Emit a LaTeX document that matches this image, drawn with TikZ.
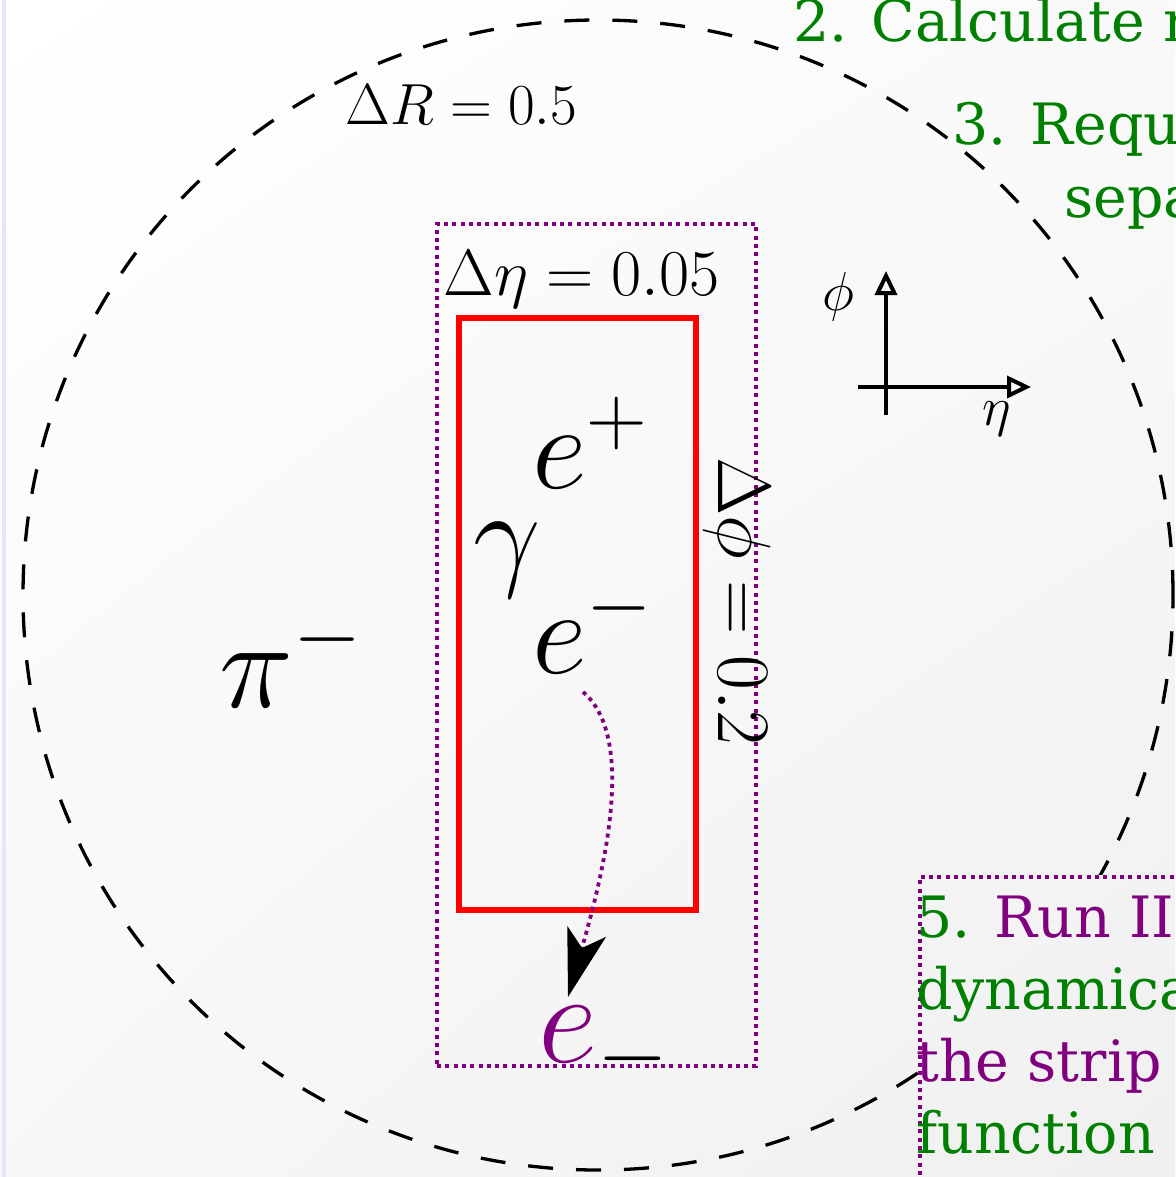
\RequirePackage{fix-cm}
\documentclass[tikz,border=0pt]{standalone}
\usepackage[no-math]{fontspec}
\newfontfamily\dvs{DejaVu Serif}
\usetikzlibrary{arrows.meta,shadings}
\definecolor{mypurple}{RGB}{128,0,128}
\definecolor{mygreen}{RGB}{0,128,0}
\definecolor{lav}{RGB}{230,230,250}
\definecolor{myred}{RGB}{255,0,0}
\begin{document}
\begin{tikzpicture}[x=1pt,y=-1pt,
  bgshade/.style={upper left=white, upper right=black!2, lower left=black!3, lower right=black!6},
  dotbox/.style={draw=mypurple, line width=3.8pt, dash pattern=on 4pt off 4.3pt},
  dotline/.style={draw=mypurple, line width=3.8pt, dash pattern=on 4pt off 4.3pt},
  conebox/.style={circle, draw=black, line width=3.3pt, dash pattern=on 25pt off 23pt, minimum size=1150pt, inner sep=0pt},
  redbox/.style={draw=myred, line width=6pt, inner sep=0pt},
  axis/.style={draw=black, line width=3.3pt, -{Triangle[open, length=24pt, width=22pt, line width=4pt]}},
  mtext/.style={inner sep=0pt, text=black},
  gtext/.style={inner sep=0pt, font=\dvs\fontsize{57}{68}\selectfont, text=mygreen, anchor=base west},
]
\useasboundingbox (0,0) rectangle (1175,1177);
\clip (0,0) rectangle (1175,1177);
\shade[bgshade] (0,0) rectangle (1175,1177);
\fill[lav] (1.5,0) rectangle (6,1177);

% cone
\node[conebox] (cone) at (598,595) {};

% strip (dotted) and cluster (red)
\node[dotbox, minimum width=319pt, minimum height=842pt, inner sep=0pt] (strip) at (596.5,645) {};
\node[redbox, minimum width=237pt, minimum height=592pt] (clus) at (577.5,614) {};

% labels
\node[mtext, anchor=base, font=\fontsize{58}{64}\selectfont] (dR) at (461.5,125) {$\Delta R = 0.5$};
\node[mtext, anchor=base, font=\fontsize{65.5}{72}\selectfont] (deta) at (581.5,295) {$\Delta\eta = 0.05$};
\node[mtext, anchor=base, rotate=-90, font=\fontsize{75.5}{82}\selectfont] (dphi) at (718,601.5) {$\Delta\phi = 0.2$};

% particles
\node[mtext, anchor=base west, font=\fontsize{120}{130}\selectfont] (ep) at (532,488) {$e^+$};
\node[mtext, anchor=base west, font=\fontsize{120}{130}\selectfont] (gam) at (473,574) {$\gamma$};
\node[mtext, anchor=base west, font=\fontsize{120}{130}\selectfont] (em) at (532,673) {$e^-$};
\node[mtext, anchor=base west, font=\fontsize{125}{130}\selectfont] (pim) at (219,707) {$\pi^-$};
\node[mtext, anchor=base west, font=\fontsize{130}{140}\selectfont] (eout) at (538,1062) {$\textcolor{mypurple}{e}_-$};

% migration arrow
\coordinate (cs) at (583,692);
\coordinate (ce) at (568,997);
\draw[dotline, -{Stealth[black, length=68pt, width=40pt, inset=17pt]}] (cs) .. controls (640,740) and (599,888) .. (ce);

% axes
\coordinate (vb) at (886,415);
\coordinate (vt) at (886,271);
\coordinate (hl) at (858,387);
\coordinate (hr) at (1031,387);
\draw[axis] (vb) -- (vt);
\draw[axis] (hl) -- (hr);
\node[mtext, font=\fontsize{55}{60}\selectfont] (phil) at (838,297) {$\phi$};
\node[mtext, font=\fontsize{55}{60}\selectfont] (etal) at (997,419) {$\eta$};

% step texts top right
\node[gtext] (t2) at (793,42) {2. Calculate r};
\node[gtext] (t3) at (952,145) {3. Requ};
\node[gtext] (t3b) at (1064,217) {sepa};

% box 5
\begin{scope}
\clip (918,875) rectangle (1300,1300);
\shade[bgshade] (0,0) rectangle (1175,1177);
\end{scope}
\node[dotbox, anchor=north west, minimum width=400pt, minimum height=400pt, inner sep=0pt] (box5) at (918,875) {};
\node[gtext] (l1) at (916,937) {5. \textcolor{mypurple}{Run II}};
\node[gtext] (l2) at (916,1009) {dynamica};
\node[gtext, text=mypurple] (l3) at (916,1081) {the strip};
\node[gtext] (l4) at (916,1153) {function};
\end{tikzpicture}
\end{document}
